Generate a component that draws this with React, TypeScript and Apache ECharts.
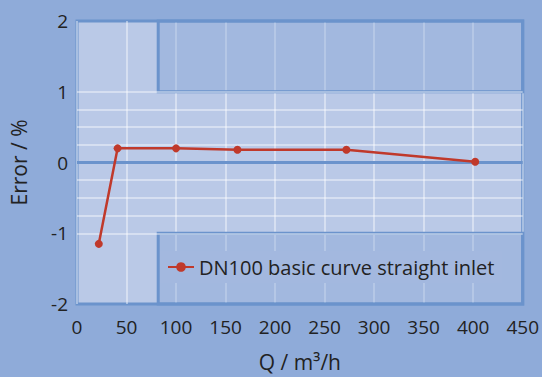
import React, { useEffect, useRef } from "react";
import * as echarts from "echarts";

const flowQ = [22, 41, 100, 162, 272, 402];
const errorPct = [-1.15, 0.2, 0.2, 0.18, 0.18, 0.01];
const seriesName = "DN100 basic curve straight inlet";
const minorGridY = [-1, -0.75, -0.5, -0.25, 0.25, 0.5, 0.75, 1];
const toleranceZones = [
  { x0: 82, x1: 450, y0: 1, y1: 2 },
  { x0: 82, x1: 450, y0: -2, y1: -1 },
];

const FONT = "'Open Sans', 'Noto Sans', sans-serif";
const BORDER = "#6b93cc";

export default function App() {
  const ref = useRef<HTMLDivElement>(null);
  useEffect(() => {
    if (!ref.current) return;
    const chart = echarts.init(ref.current, undefined, { renderer: "svg" });
    chart.setOption({
      animation: false,
      backgroundColor: "#8fabd9",
      textStyle: { fontFamily: FONT },
      grid: {
        left: 77,
        top: 21,
        width: 450,
        height: 283,
        show: true,
        backgroundColor: "#bac9e7",
        borderColor: BORDER,
        borderWidth: 3,
      },
      xAxis: {
        type: "value",
        min: 0,
        max: 450,
        interval: 50,
        name: "Q / m³/h",
        nameLocation: "middle",
        nameGap: 47,
        nameTextStyle: { fontSize: 21, color: "#222", fontFamily: FONT },
        axisLine: { show: false },
        axisTick: { show: false },
        axisLabel: { fontSize: 19, color: "#222", margin: 13, fontFamily: FONT },
        splitLine: { show: true, lineStyle: { color: "rgba(255,255,255,0.55)", width: 1.5 } },
      },
      yAxis: {
        type: "value",
        min: -2,
        max: 2,
        interval: 1,
        name: "Error / %",
        nameLocation: "middle",
        nameGap: 48,
        nameTextStyle: { fontSize: 21, color: "#222", fontFamily: FONT },
        axisLine: { show: false },
        axisTick: { show: false },
        axisLabel: { fontSize: 19, color: "#222", margin: 9, fontFamily: FONT },
        splitLine: { show: false },
      },
      legend: {
        data: [seriesName],
        left: 160,
        top: 251,
        padding: [6, 8, 6, 7],
        backgroundColor: "#a3b8df",
        itemWidth: 26,
        itemHeight: 12,
        textStyle: { fontSize: 20, color: "#222", fontFamily: FONT },
      },
      series: [
        {
          name: "grid-lines",
          type: "line",
          data: [],
          silent: true,
          z: 1,
          markLine: {
            silent: true,
            symbol: "none",
            label: { show: false },
            lineStyle: { color: "rgba(255,255,255,0.55)", width: 1.5, type: "solid" },
            data: [
              ...minorGridY.map((v) => ({ yAxis: v })),
              { yAxis: 0, lineStyle: { color: BORDER, width: 3, type: "solid" } },
            ],
          },
        },
        {
          name: "zones",
          type: "line",
          data: [],
          silent: true,
          z: 2,
          markArea: {
            silent: true,
            itemStyle: {
              color: "rgba(107,147,204,0.3)",
              borderColor: BORDER,
              borderWidth: 3,
            },
            data: toleranceZones.map((z) => [
              { xAxis: z.x0, yAxis: z.y0 },
              { xAxis: z.x1, yAxis: z.y1 },
            ]),
          },
        },
        {
          name: seriesName,
          type: "line",
          z: 5,
          data: flowQ.map((q, i) => [q, errorPct[i]]),
          symbol: "circle",
          symbolSize: 8,
          itemStyle: { color: "#c0392b" },
          lineStyle: { color: "#c0392b", width: 2.5 },
        },
      ],
    });
    return () => chart.dispose();
  }, []);
  return (
    <div
      ref={ref}
      style={{ position: "fixed", left: 0, top: 0, width: 542, height: 377 }}
    />
  );
}
